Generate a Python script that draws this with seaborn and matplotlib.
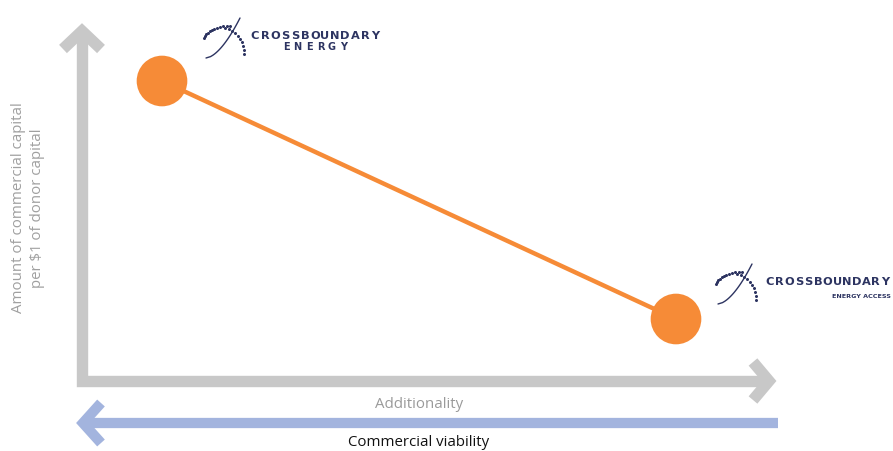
import numpy as np
import pandas as pd
import matplotlib
matplotlib.use("Agg")
import matplotlib.pyplot as plt
import seaborn as sns

# two companies on the additionality / commercial capital map (pixel-like units)
companies = ["CrossBoundary Energy", "CrossBoundary Energy Access"]
additionality = [162, 676]
capital_per_dollar = [81, 319]

x_label = "Additionality"
x2_label = "Commercial viability"
y_label = "Amount of commercial capital\nper $1 of donor capital"

orange = "#f68b37"
grey_axis = "#c8c8c8"
blue_axis = "#a3b4de"
navy = "#2d3461"

sns.set_style("white")
plt.rcParams['font.family'] = ['Open Sans', 'DejaVu Sans']

fig = plt.figure(figsize=(8.93, 4.51), dpi=100)
ax = fig.add_axes([0, 0, 1, 1])

# grey L shaped axes with chevrons
ax.plot([82, 82, 764], [36, 381, 381], color=grey_axis, lw=8.2,
        solid_joinstyle='miter', solid_capstyle='butt', zorder=1)
ax.plot([63, 82, 101], [49, 31, 49], color=grey_axis, lw=8.2,
        solid_joinstyle='miter', solid_capstyle='butt', zorder=1)
ax.plot([753, 769, 753], [362, 381, 400], color=grey_axis, lw=8.2,
        solid_joinstyle='miter', solid_capstyle='butt', zorder=1)

# blue arrow pointing left
ax.plot([778, 88], [423, 423], color=blue_axis, lw=7.4,
        solid_capstyle='butt', zorder=1)
ax.plot([101, 83, 101], [403, 423, 443], color=blue_axis, lw=7.4,
        solid_joinstyle='miter', solid_capstyle='butt', zorder=1)

df = pd.DataFrame({"company": companies, "x": additionality, "y": capital_per_dollar})
sns.lineplot(data=df, x="x", y="y", ax=ax, color=orange, lw=3.2, zorder=2,
             sort=False)
sns.scatterplot(data=df, x="x", y="y", ax=ax, color=orange, s=1330,
                edgecolor='none', zorder=3, legend=False)
ax.set_xlim(0, 893)
ax.set_ylim(451, 0)
ax.axis('off')

ax.text(419, 404, x_label, color="#9a9a9a", fontsize=10.8, ha='center', va='center')
ax.text(419, 443, x2_label, color="#111111", fontsize=10.8, ha='center', va='center')
ax.text(28, 208, y_label, color="#a0a0a0", fontsize=10.8, ha='center', va='center',
        rotation=90, linespacing=1.45)


def spaced(x0, y, word, pitch, size):
    for i, ch in enumerate(word):
        ax.text(x0 + i * pitch, y, ch, color=navy, fontsize=size, fontweight='bold',
                ha='center', va='center', family=['DejaVu Sans'])


def logo(x0, y0):
    # swoosh
    t = np.linspace(0, 1, 30)
    ax.plot(x0 + 6 + 34 * t ** 0.6, y0 + 42 - 40 * t, color=navy, lw=1.0, zorder=4)
    # dotted arcs
    a = np.linspace(np.pi * 0.95, np.pi * 0.5, 12)
    ax.scatter(x0 + 30 + 26 * np.cos(a), y0 + 24 - 14 * np.sin(a),
               s=1.4, color=navy, zorder=4)
    b = np.linspace(np.pi * 0.45, 0, 10)
    ax.scatter(x0 + 22 + 22 * np.cos(b), y0 + 38 - 26 * np.sin(b),
               s=1.4, color=navy, zorder=4)


logo(200, 16)
spaced(255, 36, "CROSSBOUNDARY", 10.0, 8.2)
spaced(286, 47, "ENERGY", 11.5, 7.0)

logo(712, 262)
spaced(770, 282, "CROSSBOUNDARY", 9.6, 8.2)
ax.text(891, 296, "ENERGY ACCESS", color=navy, fontsize=4.6, fontweight='bold',
        ha='right', va='center', family=['DejaVu Sans'])

fig.savefig("out.png", dpi=100)
